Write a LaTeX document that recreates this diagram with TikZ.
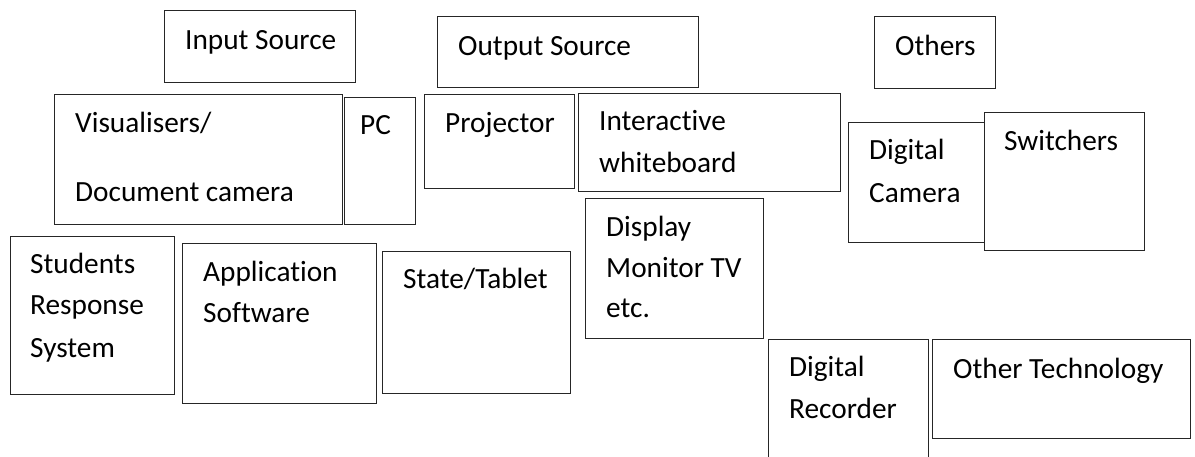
\documentclass[tikz,border=0pt]{standalone}
\usepackage{fontspec}
\setmainfont{Carlito}[Ligatures=NoCommon]
\usetikzlibrary{positioning}

\tikzset{
  box/.style={draw=black!85, line width=1.2pt, anchor=north west, inner sep=0pt},
  lbl/.style={anchor=base west, inner sep=0pt, font=\fontsize{29.3}{35}\selectfont}
}

\begin{document}
\begin{tikzpicture}[x=1pt,y=-1pt]
\clip (0,0) rectangle (1195,456);
% boxes
\foreach \nm/\x/\y/\w/\h in {input/164/10/191/72, output/437/16/261/71, others/874/16/121/72,
    visual/54/94/288/130, pc/344/97/71/127, proj/424/94/150/94, iwb/578/93/262/98,
    display/585/198/178/140, digcam/848/122/136/120, switch/984/112/160/138,
    srs/10/236/164/158, appsw/182/243/194/160, tablet/382/251/188/142,
    digrec/768/339/160/140, othertech/932/339/258/99}
  \node[box, minimum width=\w pt, minimum height=\h pt] (\nm) at (\x,\y) {};
% labels
\foreach \nm/\x/\y/\t in {inputtxt/185/49/Input Source, outputtxt/458/55/Output Source,
    otherstxt/895/55/Others, visualtxt/75/132/{Visualisers/}, doctxt/75/201/Document camera,
    pctxt/360/134/PC, projtxt/445/132/Projector, iwbtxt/599/130/Interactive,
    wbtxt/599/172/whiteboard, disptxt/606/236/Display, montxt/606/277/Monitor TV,
    etctxt/606/317/etc., digtxt/869/159/Digital, camtxt/869/202/Camera,
    switchtxt/1004/150/Switchers, stutxt/30/273/Students, resptxt/30/314/Response,
    systxt/30/357/System, apptxt/203/281/Application, softtxt/203/322/Software,
    tabtxt/403/288/{State/Tablet}, digrectxt/789/376/Digital, rectxt/789/418/Recorder,
    othtxt/953/378/Other Technology}
  \node[lbl] (\nm) at (\x,\y) {\t};
\end{tikzpicture}
\end{document}
